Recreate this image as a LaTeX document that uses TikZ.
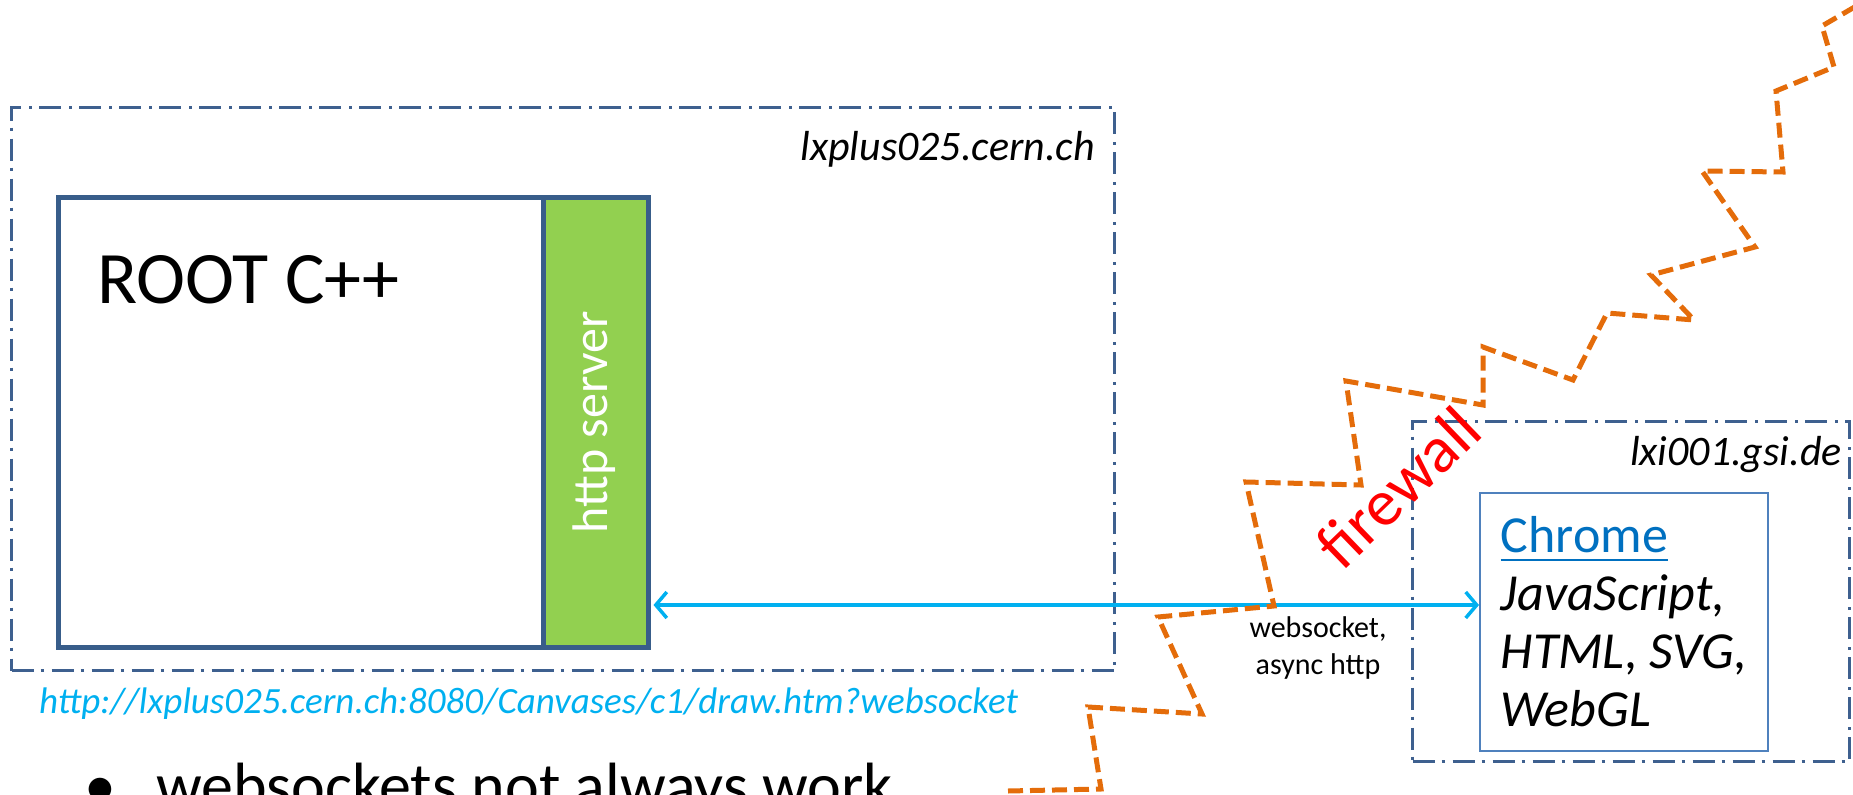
\documentclass[tikz,border=0pt]{standalone}
\usepackage{fontspec}
\setmainfont{Carlito}
\usetikzlibrary{arrows.meta}
\definecolor{boxblue}{RGB}{56,93,138}
\definecolor{dashblue}{RGB}{62,96,143}
\definecolor{srvgreen}{RGB}{146,208,80}
\definecolor{linkcyan}{RGB}{0,176,240}
\definecolor{fworange}{RGB}{228,108,10}
\definecolor{chromeblue}{RGB}{0,112,192}
\definecolor{chromebox}{RGB}{79,129,189}
\newcommand{\fsz}[2]{\fontsize{#1}{#2}\selectfont}
\newsavebox{\ulbox}
\newcommand{\myul}[1]{\sbox{\ulbox}{#1}\rlap{\rule[-8.5pt]{\wd\ulbox}{2.5pt}}\usebox{\ulbox}}
\begin{document}
\begin{tikzpicture}[x=1pt,y=-1pt,
  hostbox/.style={draw=dashblue, line width=3pt, dash pattern=on 22pt off 7pt on 3pt off 8pt, rectangle, inner sep=0pt, anchor=north west},
  procbox/.style={draw=boxblue, line width=4.5pt, rectangle, inner sep=0pt, anchor=north west, minimum height=450pt},
  hostlabel/.style={font=\itshape\fsz{42}{50}, anchor=base east, inner sep=0pt},
  link/.style={draw=linkcyan, line width=3.5pt, {Straight Barb[length=11pt,width=26pt]}-{Straight Barb[length=11pt,width=26pt]}},
  fwline/.style={draw=fworange, line width=5pt, dash pattern=on 15pt off 7pt, line join=miter}]
\useasboundingbox (0,0) rectangle (1853,795);
\clip (0,0) rectangle (1853,795);
% host boxes
\node[hostbox, minimum width=1103pt, minimum height=563pt] (lxplus) at (10,106) {};
\node[hostbox, minimum width=437pt, minimum height=340pt] (lxi) at (1411,420) {};
\node[hostlabel] (lxpluslbl) at (1095,160) {lxplus025.cern.ch};
\node[hostlabel] (lxilbl) at (1842,465) {lxi001.gsi.de};
% ROOT process
\node[procbox, fill=white, minimum width=485pt] (root) at (56,195) {};
\node[procbox, fill=srvgreen, minimum width=105pt] (http) at (541,195) {};
\node[anchor=base west, inner sep=0pt, font=\fsz{74}{80}] (roottxt) at (97,303) {ROOT C++};
\node[rotate=90, text=white, font=\fsz{50}{54}, inner sep=0pt] (httptxt) at ([xshift=-2pt]http.center) {http server};
% browser
\node[draw=chromebox, line width=2pt, anchor=north west, minimum width=288pt, minimum height=258pt, inner sep=0pt, align=left, font=\fsz{52}{58}] (chrome) at (1479,492)
  {{\color{chromeblue}\myul{Chrome}}\\\itshape JavaScript,\\\itshape HTML, SVG,\\\itshape WebGL};
% connection
\coordinate (ay) at (0,605);
\draw[link, shorten <=3pt] (http.east |- ay) -- (chrome.west |- ay);
\node[align=center, font=\fsz{30}{37}, inner sep=0pt] (wslbl) at (1318,648) {websocket,\\async http};
% firewall
\draw[fwline] (1008,791) -- (1101,789) -- (1088,707) -- (1202,714) -- (1158,617) -- (1274,606) -- (1246,482) -- (1361,485) -- (1346,381) -- (1483,405) -- (1483,347) -- (1573,380) -- (1607,313) -- (1694,320) -- (1651,275) -- (1755,247) -- (1702,171) -- (1783,172) -- (1776,91) -- (1834,67) -- (1822,26) -- (1870,-2);
\node[rotate=44, text=red, font=\fsz{66}{70}, inner sep=0pt] (fw) at (1398,487) {firewall};
% url and bullet
\node[anchor=base west, inner sep=0pt, text=linkcyan, font=\itshape\fsz{37}{44}] (url) at (39,713) {http://lxplus025.cern.ch:8080/Canvases/c1/draw.htm?websocket};
\node[anchor=base west, inner sep=0pt, font=\fsz{64}{70}] (bullet) at (84,807) {•\hspace*{40pt}websockets not always work};
\end{tikzpicture}
\end{document}
